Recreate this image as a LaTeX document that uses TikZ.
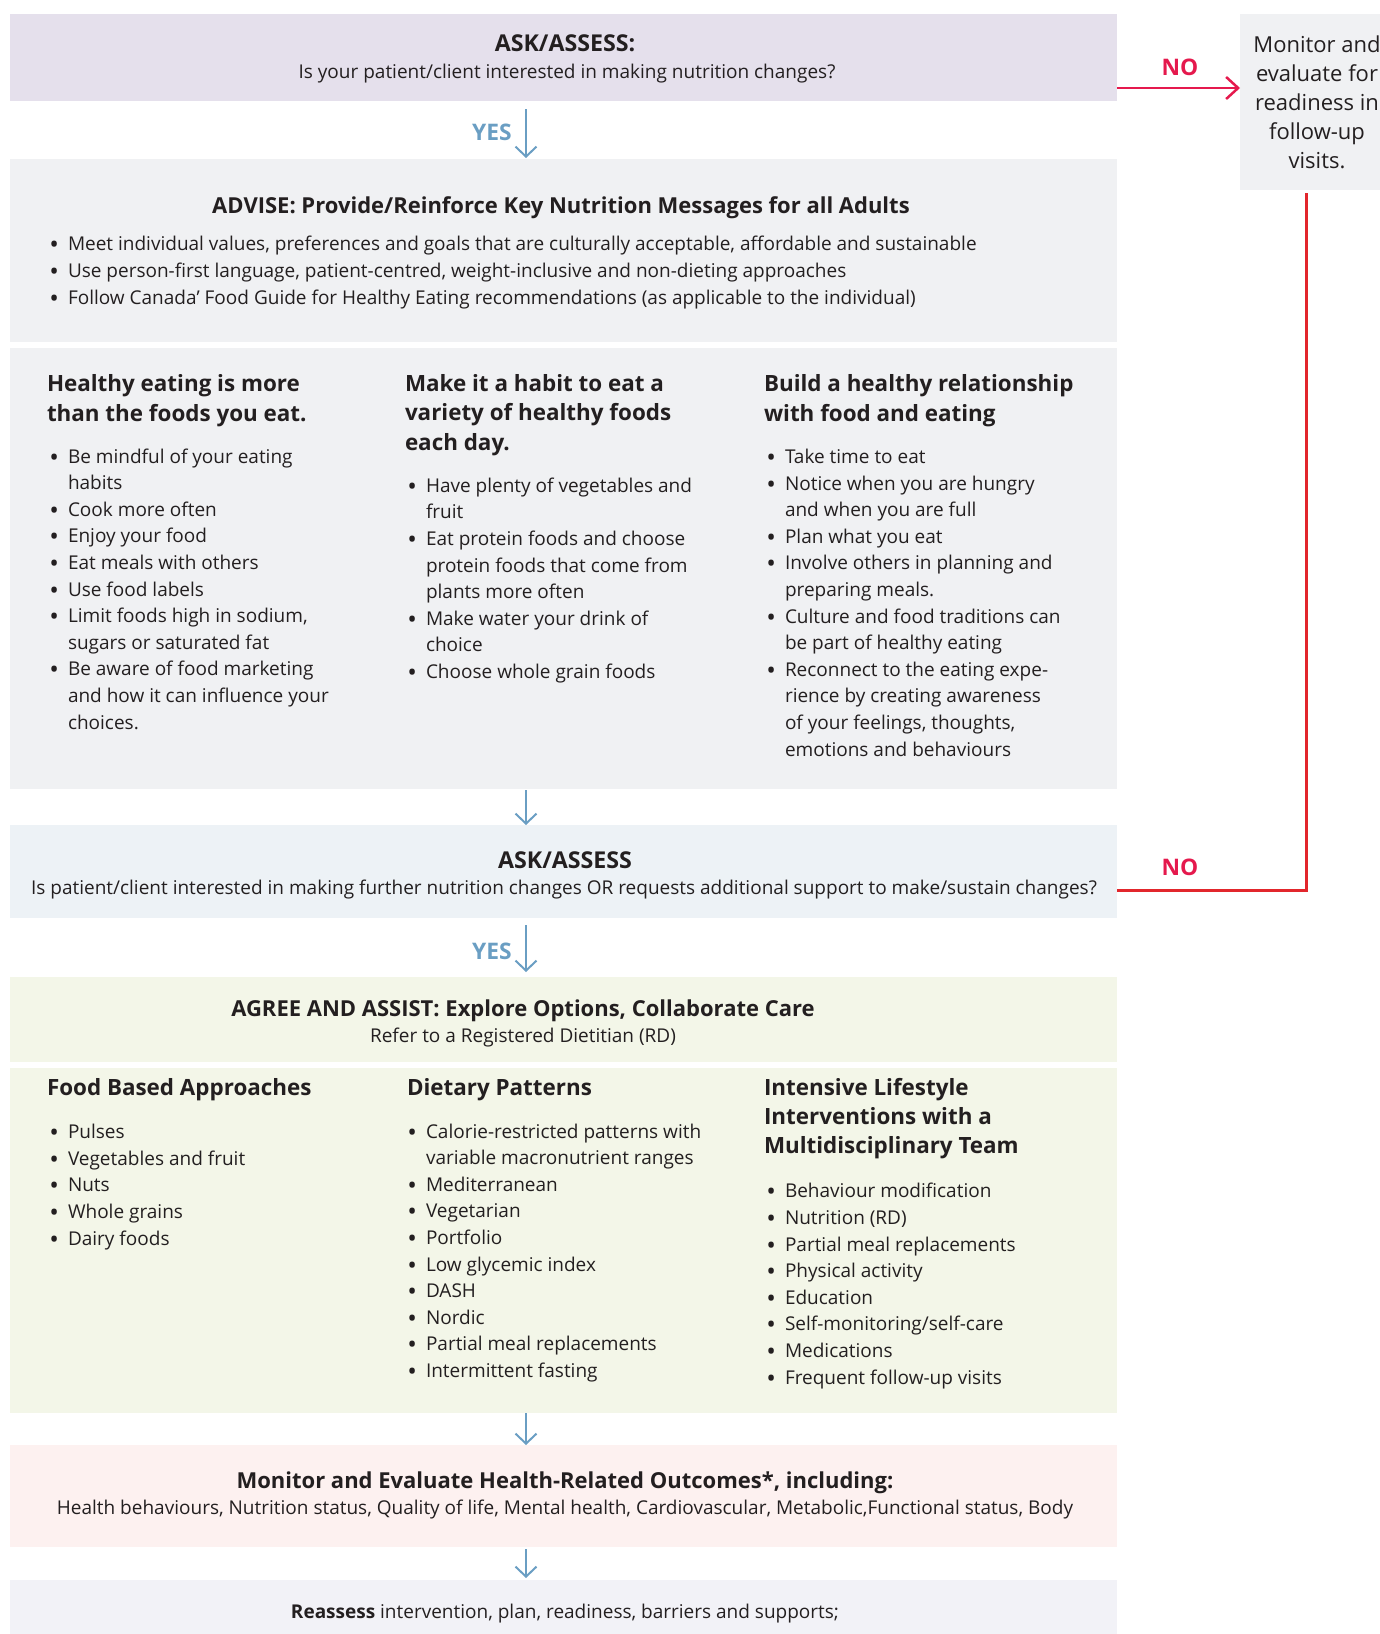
\documentclass[tikz,border=0pt]{standalone}
\usepackage{fontspec}
\setmainfont{Open Sans}
\usetikzlibrary{arrows.meta,calc}
\definecolor{ink}{HTML}{231F20}
\definecolor{lav}{HTML}{E5E0EC}
\definecolor{pale}{HTML}{F0F1F3}
\definecolor{bluegray}{HTML}{EDF2F6}
\definecolor{greenish}{HTML}{F3F6E8}
\definecolor{pinkish}{HTML}{FDF1F0}
\definecolor{lilac}{HTML}{F2F2F7}
\definecolor{flowblue}{HTML}{6A9EC3}
\definecolor{nored}{HTML}{E5194D}
\definecolor{loopred}{HTML}{E2262C}
\newcommand{\bodyfont}{\fontsize{19}{26.6}\selectfont}
\newcommand{\headfont}{\bfseries\fontsize{22.4}{29.2}\selectfont}
\newcommand{\titlefont}{\bfseries\fontsize{22}{26}\selectfont}
\newcommand{\askfont}{\bfseries\fontsize{23.2}{26}\selectfont}
\newcommand{\labfont}{\bfseries\fontsize{22.8}{26}\selectfont}
\newcommand{\bl}{\makebox[0pt][r]{\raisebox{-0.3ex}{\scalebox{1.35}{\textbullet}}\hspace{9pt}}}
\begin{document}
\begin{tikzpicture}[x=1pt,y=-1pt,
  every node/.style={text=ink},
  box/.style={draw=none,inner sep=0pt,outer sep=0pt},
  txt/.style={inner sep=0pt,outer sep=0pt,align=left,anchor=base west,font=\bodyfont},
  ctr/.style={inner sep=0pt,outer sep=0pt,align=center,anchor=base},
  flow/.style={draw=flowblue,line width=2pt,-{Straight Barb[length=10pt,width=21pt]}},
  noarrow/.style={draw=nored,line width=2.5pt,-{Straight Barb[length=12pt,width=22pt]}},
  looproute/.style={draw=loopred,line width=3pt}]
\useasboundingbox (0,0) rectangle (1380,1634);
% boxes
\node[box,fill=lav,minimum width=1107pt,minimum height=87pt] (b1) at (563.5,57.5) {};
\node[box,fill=pale,minimum width=140pt,minimum height=176pt] (rb) at (1310,102) {};
\node[box,fill=pale,minimum width=1107pt,minimum height=183pt] (b2) at (563.5,250.5) {};
\node[box,fill=pale,minimum width=1107pt,minimum height=441pt] (b3) at (563.5,568.5) {};
\node[box,fill=bluegray,minimum width=1107pt,minimum height=93pt] (b4) at (563.5,871.5) {};
\node[box,fill=greenish,minimum width=1107pt,minimum height=85pt] (b5) at (563.5,1019.5) {};
\node[box,fill=greenish,minimum width=1107pt,minimum height=345pt] (b6) at (563.5,1240.5) {};
\node[box,fill=pinkish,minimum width=1107pt,minimum height=102pt] (b7) at (563.5,1496) {};
\node[box,fill=lilac,minimum width=1107pt,minimum height=54pt] (b8) at (563.5,1607) {};
% connectors
\coordinate (ax) at (526,0);
\draw[flow,shorten <=8pt,shorten >=1pt] (b1.south -| ax) -- (b2.north -| ax);
\draw[flow,shorten <=1pt] (b3.south -| ax) -- (b4.north -| ax);
\draw[flow,shorten <=7pt,shorten >=5pt] (b4.south -| ax) -- (b5.north -| ax);
\draw[flow] (b6.south -| ax) -- (b7.north -| ax);
\draw[flow,shorten <=2pt,shorten >=2pt] (b7.south -| ax) -- (b8.north -| ax);
\coordinate (noy) at (0,88);
\draw[noarrow] (b1.east |- noy) -- (rb.west |- noy);
\coordinate (lx) at (1306,890);
\draw[looproute,shorten <=3pt] (rb.south -| lx) |- (b4.east |- lx);
% labels
\node[ctr,font=\labfont,text=nored] (no1) at (1180,75) {NO};
\node[ctr,font=\labfont,text=nored] (no2) at (1180,875) {NO};
\node[ctr,font=\labfont,text=flowblue] (yes1) at (492,140) {YES};
\node[ctr,font=\labfont,text=flowblue] (yes2) at (492,959) {YES};
% box 1
\node[ctr,font=\askfont] (t1) at (565,51) {ASK/ASSESS:};
\node[ctr,font=\bodyfont] (q1) at (567,78) {Is your patient/client interested in making nutrition changes?};
% right box
\node[ctr,font=\fontsize{22}{29}\selectfont] (rbt) at (1317,168) {Monitor and\\evaluate for\\readiness in\\follow-up\\visits.};
% box 2
\node[ctr,font=\titlefont] (t2) at (561,213) {ADVISE: Provide/Reinforce Key Nutrition Messages for all Adults};
\node[txt] (l2) at (68,304) {\bl Meet individual values, preferences and goals that are culturally acceptable, affordable and sustainable\\\bl Use person-first language, patient-centred, weight-inclusive and non-dieting approaches\\\bl Follow Canada’ Food Guide for Healthy Eating recommendations (as applicable to the individual)};
% box 3
\node[txt,font=\headfont] (h31) at (47,421) {Healthy eating is more\\than the foods you eat.};
\node[txt] (l31) at (68,729) {\bl Be mindful of your eating\\habits\\\bl Cook more often\\\bl Enjoy your food\\\bl Eat meals with others\\\bl Use food labels\\\bl Limit foods high in sodium,\\sugars or saturated fat\\\bl Be aware of food marketing\\and how it can influence your\\choices.};
\node[txt,font=\headfont] (h32) at (405,450) {Make it a habit to eat a\\variety of healthy foods\\each day.};
\node[txt] (l32) at (426,678.5) {\bl Have plenty of vegetables and\\fruit\\\bl Eat protein foods and choose\\protein foods that come from\\plants more often\\\bl Make water your drink of\\choice\\\bl Choose whole grain foods};
\node[txt,font=\headfont] (h33) at (764,421) {Build a healthy relationship\\with food and eating};
\node[txt] (l33) at (785,756) {\bl Take time to eat\\\bl Notice when you are hungry\\and when you are full\\\bl Plan what you eat\\\bl Involve others in planning and\\preparing meals.\\\bl Culture and food traditions can\\be part of healthy eating\\\bl Reconnect to the eating expe-\\rience by creating awareness\\of your feelings, thoughts,\\emotions and behaviours};
% box 4
\node[ctr,font=\askfont] (t4) at (565,868) {ASK/ASSESS};
\node[ctr,font=\bodyfont] (q4) at (564,894) {Is patient/client interested in making further nutrition changes OR requests additional support to make/sustain changes?};
% box 5
\node[ctr,font=\titlefont] (t5) at (523,1016) {AGREE AND ASSIST: Explore Options, Collaborate Care};
\node[ctr,font=\bodyfont] (r5) at (523,1042) {Refer to a Registered Dietitian (RD)};
% box 6
\node[txt,font=\headfont] (h61) at (47,1095) {Food Based Approaches};
\node[txt] (l61) at (68,1245) {\bl Pulses\\\bl Vegetables and fruit\\\bl Nuts\\\bl Whole grains\\\bl Dairy foods};
\node[txt,font=\headfont] (h62) at (407,1095) {Dietary Patterns};
\node[txt] (l62) at (426,1377.5) {\bl Calorie-restricted patterns with\\variable macronutrient ranges\\\bl Mediterranean\\\bl Vegetarian\\\bl Portfolio\\\bl Low glycemic index\\\bl DASH\\\bl Nordic\\\bl Partial meal replacements\\\bl Intermittent fasting};
\node[txt,font=\headfont] (h63) at (764,1153.5) {Intensive Lifestyle\\Interventions with a\\Multidisciplinary Team};
\node[txt] (l63) at (785,1384) {\bl Behaviour modification\\\bl Nutrition (RD)\\\bl Partial meal replacements\\\bl Physical activity\\\bl Education\\\bl Self-monitoring/self-care\\\bl Medications\\\bl Frequent follow-up visits};
% box 7
\node[ctr,font=\titlefont] (t7) at (565,1488) {Monitor and Evaluate Health-Related Outcomes*, including:};
\node[ctr,font=\bodyfont] (l7) at (565,1514) {Health behaviours, Nutrition status, Quality of life, Mental health, Cardiovascular, Metabolic,Functional status, Body};
% box 8
\node[ctr,font=\bodyfont] (l8) at (565,1618) {\textbf{Reassess} intervention, plan, readiness, barriers and supports;};
\end{tikzpicture}
\end{document}
